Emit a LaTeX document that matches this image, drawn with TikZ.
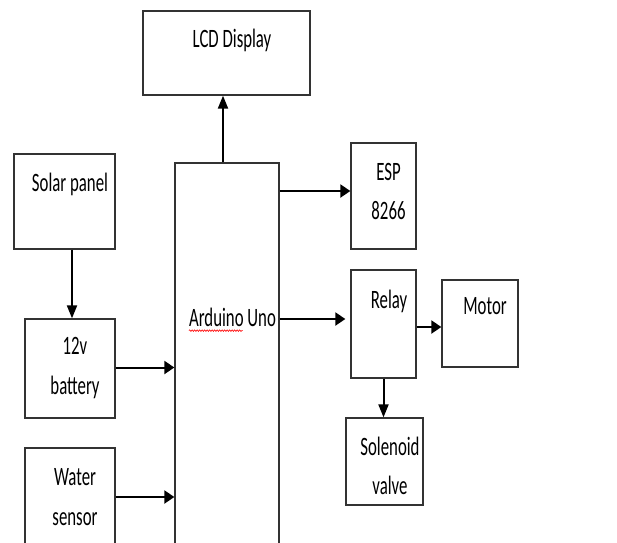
\documentclass[tikz,border=0pt]{standalone}
\usepackage{fontspec}
\setmainfont{Carlito}
\usetikzlibrary{arrows.meta,decorations.pathmorphing}
\definecolor{boxline}{HTML}{333333}

\begin{document}
\begin{tikzpicture}[x=1pt, y=-1pt,
    box/.style={draw=boxline, line width=1.3pt, inner sep=0pt},
    txt/.style={font=\fontsize{16.8}{25}\selectfont, yscale=1.58, align=center, inner sep=0pt},
    harrow/.style={line width=2pt, -{Triangle[length=10pt,width=13pt]}},
    varrow/.style={line width=2pt, -{Triangle[length=13pt,width=10pt]}}]
    \clip (0,0) rectangle (617,542);

    % Blocks
    \node[box, minimum width=167pt, minimum height=84pt] (lcd) at (226.5,53) {};
    \node[box, minimum width=104pt, minimum height=407pt] (ard) at (227,366.5) {};
    \node[box, minimum width=101pt, minimum height=95pt] (sol) at (64.5,201.5) {};
    \node[box, minimum width=90pt, minimum height=99pt] (bat) at (70,368.5) {};
    \node[box, minimum width=90pt, minimum height=122pt] (wat) at (70,509) {};
    \node[box, minimum width=65pt, minimum height=106pt] (esp) at (383.5,196) {};
    \node[box, minimum width=65pt, minimum height=108pt] (rly) at (383.5,324) {};
    \node[box, minimum width=76pt, minimum height=87pt] (mot) at (480,323.5) {};
    \node[box, minimum width=77pt, minimum height=87pt] (vlv) at (384.5,461.5) {};

    % Labels
    \node[txt] (lcdtxt) at (232,40) {LCD Display};
    \node[txt] (soltxt) at (70,184) {Solar panel};
    \node[txt] (battxt) at (75,368) {12v\\battery};
    \node[txt] (wattxt) at (75,497) {Water\\sensor};
    \node[txt] (ardtxt) at (232.5,317) {Arduino Uno};
    \node[txt] (esptxt) at (388.5,191.5) {ESP\\8266};
    \node[txt] (rlytxt) at (389,301) {Relay};
    \node[txt] (mottxt) at (485,306) {Motor};
    \node[txt] (vlvtxt) at (390,466) {Solenoid\\valve};

    % spell check mark
    \draw[red, line width=0.6pt, decorate, decoration={snake, amplitude=0.8pt, segment length=2.5pt}]
        ([yshift=-4pt]ardtxt.south west) -- ++(54,0);

    % Arrows
    \draw[varrow] ([xshift=-4pt]ard.north) -- ([xshift=-4pt]ard.north |- lcd.south);
    \draw[varrow] ([xshift=2pt]bat.north |- sol.south) -- ([xshift=2pt]bat.north);
    \draw[harrow] ([yshift=1pt]bat.east) -- ([yshift=1pt]bat.east -| ard.west);
    \draw[harrow] ([yshift=12pt]wat.east) -- ([yshift=12pt]wat.east -| ard.west);
    \draw[harrow] ([yshift=5pt]esp.west -| ard.east) -- ([yshift=5pt]esp.west);
    \draw[harrow, shorten >=5pt] ([yshift=5pt]rly.west -| ard.east) -- ([yshift=5pt]rly.west);
    \draw[harrow] ([yshift=-3pt]rly.east) -- ([yshift=-3pt]rly.east -| mot.west);
    \draw[varrow] (rly.south) -- (rly.south |- vlv.north);
\end{tikzpicture}
\end{document}
